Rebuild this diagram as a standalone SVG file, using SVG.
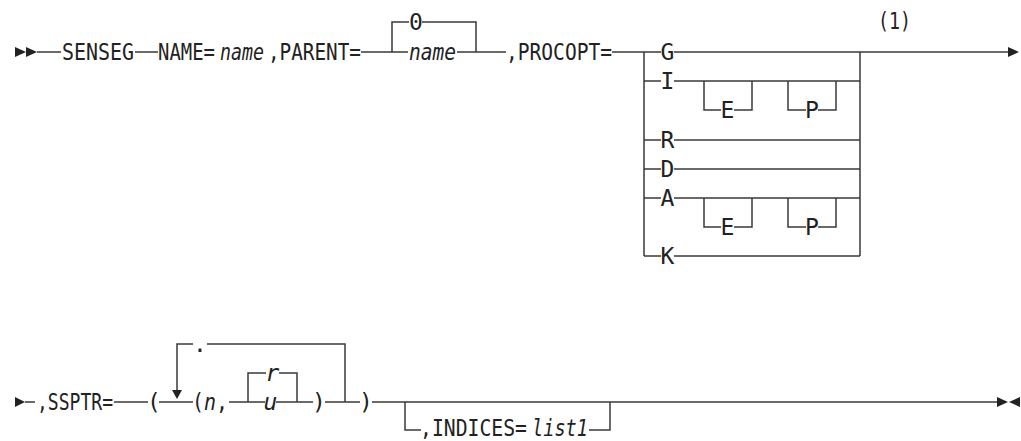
<svg xmlns="http://www.w3.org/2000/svg" width="1021" height="441" viewBox="0 0 1021 441">
<style>
.t{font-family:"DejaVu Sans Mono","Liberation Mono",monospace;font-size:23px;fill:#222}
.i{font-style:italic}
.c{text-anchor:middle}
.ln{fill:none;stroke:#3a3a3a;stroke-width:1.5}
.ah{fill:#222;stroke:none}
</style>
<rect width="1021" height="441" fill="#fff"/>
<g id="connectors">
<polygon class="ah" points="15,47 26,52 15,57"/>
<polygon class="ah" points="26,47 37,52 26,57"/>
<path class="ln" d="M37,52H61 M135,52H158 M361,52H392 M392,52V22H409 M422,22H476V52 M392,52H408 M457,52H476 M476,52H506 M612,52H644"/>
<path class="ln" d="M644,52V256 M860,52V256"/>
<path class="ln" d="M644,52H661 M674,52H1008"/>
<path class="ln" d="M644,81H661 M674,81H860"/>
<path class="ln" d="M704,81V110H721 M734,110H752V81 M788,81V110H806 M818,110H836V81"/>
<path class="ln" d="M644,140H661 M674,140H860"/>
<path class="ln" d="M644,169H661 M674,169H860"/>
<path class="ln" d="M644,198H661 M674,198H860"/>
<path class="ln" d="M704,198V227H721 M734,227H752V198 M788,198V227H806 M818,227H836V198"/>
<path class="ln" d="M644,256H661 M674,256H860"/>
<polygon class="ah" points="1008,47 1019,52 1008,57"/>
<polygon class="ah" points="15,397 25,402 15,407"/>
<path class="ln" d="M25,402H35 M114,402H148 M159,402H193 M229,402H248 M248,402V373H266 M279,373H297V402 M248,402H265 M276,402H297 M297,402H313 M325,402H360 M372,402H997"/>
<path class="ln" d="M177,391V344H193 M207,344H345V402"/>
<polygon class="ah" points="172,390 182,390 177,399"/>
<path class="ln" d="M405,402V430H421 M589,430H610V402"/>
<polygon class="ah" points="997,397 1008,402 997,407"/>
<polygon class="ah" points="1020,397 1009,402 1020,407"/>
</g>
<g id="senseg"><text class="t" x="62" y="60" textLength="72" lengthAdjust="spacingAndGlyphs">SENSEG</text></g>
<g id="name-param">
<text class="t" x="158" y="60" textLength="57" lengthAdjust="spacingAndGlyphs">NAME=</text>
<text class="t i" x="220" y="60" textLength="44" lengthAdjust="spacingAndGlyphs">name</text>
</g>
<g id="parent-param">
<text class="t" x="268" y="60" textLength="93" lengthAdjust="spacingAndGlyphs">,PARENT=</text>
<text class="t c" x="416" y="30">0</text>
<text class="t i" x="409" y="60" textLength="47" lengthAdjust="spacingAndGlyphs">name</text>
</g>
<g id="procopt-param">
<text class="t" x="506" y="60" textLength="106" lengthAdjust="spacingAndGlyphs">,PROCOPT=</text>
<text class="t c" x="667.5" y="60">G</text>
<text class="t c" x="667.5" y="89">I</text>
<text class="t c" x="727.5" y="118">E</text>
<text class="t c" x="812" y="118">P</text>
<text class="t c" x="667.5" y="148">R</text>
<text class="t c" x="667.5" y="177">D</text>
<text class="t c" x="667.5" y="206">A</text>
<text class="t c" x="727.5" y="235">E</text>
<text class="t c" x="812" y="235">P</text>
<text class="t c" x="667.5" y="264">K</text>
<text class="t" x="878" y="29" textLength="33" lengthAdjust="spacingAndGlyphs">(1)</text>
</g>
<g id="ssptr-param">
<text class="t" x="37" y="410" textLength="76" lengthAdjust="spacingAndGlyphs">,SSPTR=</text>
<text class="t c" x="154" y="410">(</text>
<text class="t c" x="200" y="352">.</text>
<text class="t" x="192" y="410" textLength="36" lengthAdjust="spacingAndGlyphs">(<tspan class="i">n</tspan>,</text>
<text class="t i c" x="272.5" y="381">r</text>
<text class="t i c" x="270.5" y="410">u</text>
<text class="t c" x="319" y="410">)</text>
<text class="t c" x="366" y="410">)</text>
</g>
<g id="indices-param">
<text class="t" x="420" y="436" textLength="107" lengthAdjust="spacingAndGlyphs">,INDICES=</text>
<text class="t i" x="532" y="436" textLength="56" lengthAdjust="spacingAndGlyphs">list1</text>
</g>
</svg>
